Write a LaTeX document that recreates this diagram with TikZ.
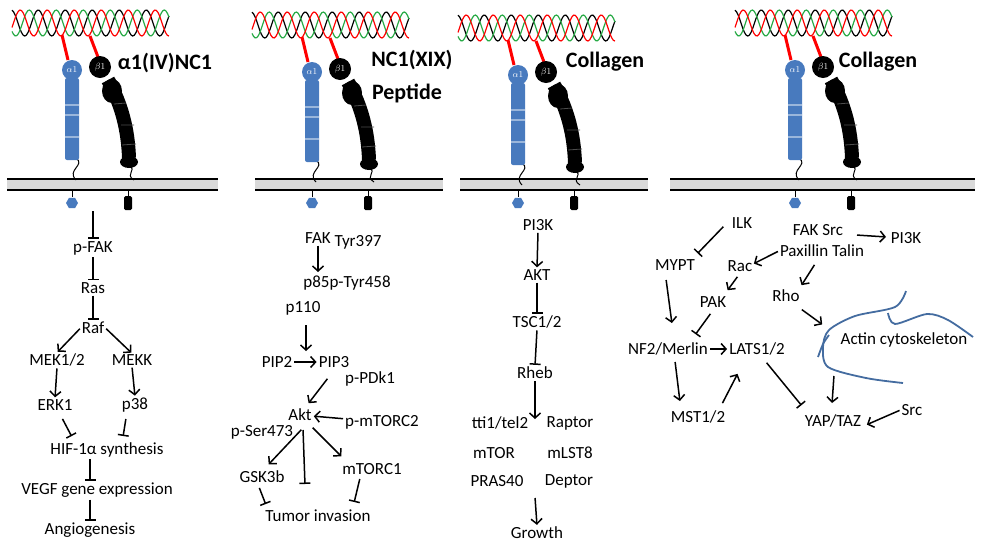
\documentclass[tikz,border=0pt]{standalone}
\usepackage{fontspec}
\setmainfont{Carlito}
\usetikzlibrary{arrows.meta,shapes.geometric}
\definecolor{ablue}{RGB}{72,122,190}
\definecolor{hgreen}{RGB}{40,170,70}
\definecolor{actin}{RGB}{68,108,160}
\newcommand\myhelix[2]{\draw[#1, line width=1.2pt] plot[variable=\t,domain=-60:97,samples=100,smooth] (\t,{-47+13*sin(13.33*(\t+#2))});}
\newcommand\myintegrin[2]{%
\begin{scope}[shift={(#1,#2)}]
 \myhelix{black}{0}\myhelix{hgreen}{9}\myhelix{red}{18}
 \draw[red,line width=3pt] (-10,-35) -- (-4,-10) (18,-34) -- (26,-13);
 \draw[line width=1pt] (4,88) .. controls (14,95) and (-6,100) .. (4,110);
 \draw[line width=1pt] (57,96) .. controls (66,100) and (52,104) .. (62,110);
 \draw[line width=14pt] (36,10) .. controls (50,35) and (56,60) .. (57,88);
 \fill (40,21) ellipse [x radius=10pt, y radius=12pt];
 \fill (57,92) ellipse [x radius=9pt, y radius=6pt];
 \draw[gray!60!black,line width=0.8pt] (42,34)--(54,33) (49,55)--(62,55) (50,75)--(64,74);
 \fill[ablue,rounded corners=2pt] (-7,8) rectangle (7,90);
 \draw[ablue!55!white,line width=1.2pt] (-7,35)--(7,35) (-7,45)--(7,45) (-7,67)--(7,67);
 \fill (28,-3) circle [radius=11pt];
 \fill[ablue] (0,0) circle [radius=10pt];
 \node[white,font=\fontsize{9}{10}\selectfont] at (0,0) {$\alpha1$};
 \node[white,font=\fontsize{9}{10}\selectfont\bfseries] at (28,-3) {$\beta1$};
\end{scope}
\node[regular polygon,regular polygon sides=6,fill=ablue,minimum size=12pt,inner sep=0pt] at (#1,203) {};
\fill[rounded corners=1.5pt] (#1+52,196) rectangle (#1+60,210);
\draw[line width=1pt] (#1,190)--(#1,197) (#1+56,190)--(#1+56,197);
}
\newcommand\mymembrane[2]{%
\fill[gray!30] (#1,179) rectangle (#2,190);
\draw[line width=2pt] (#1,179)--(#2,179) (#1,190)--(#2,190);}
\begin{document}
\begin{tikzpicture}[x=1pt,y=-1pt,
 every node/.style={font=\fontsize{17}{18}\selectfont,inner sep=1pt},
 act/.style={line width=1.5pt,-{Straight Barb[length=5pt,width=11pt]},shorten >=1pt,shorten <=1pt},
 inh/.style={line width=1.5pt,-{Bar[width=11pt,line width=1.5pt]},shorten >=1pt,shorten <=1pt},
 title/.style={font=\fontsize{22}{24}\selectfont\bfseries}]
\useasboundingbox (0,0) rectangle (981,547);
\mymembrane{7}{218}\mymembrane{255}{443}\mymembrane{460}{648}\mymembrane{670}{975}
\myintegrin{72}{70}\myintegrin{312}{72}\myintegrin{518}{75}\myintegrin{795}{70}
\node[title] (t1) at (165,63) {α1(IV)NC1};
\node[title] (t2) at (412,60) {NC1(XIX)};
\node[title] (t2b) at (407,93) {Peptide};
\node[title] (t3) at (605,62) {Collagen};
\node[title] (t4) at (878,62) {Collagen};
% panel 1
\coordinate (s1) at (93,210);
\node (pfak) at (93,248) {p-FAK};
\node (ras) at (93,288) {Ras};
\node (raf) at (93,328) {Raf};
\node (mek) at (57,360) {MEK1/2};
\node (mekk) at (132,360) {MEKK};
\node (erk) at (55,405) {ERK1};
\node (p38) at (135,405) {p38};
\node (hif) at (107,450) {HIF-1α synthesis};
\node (vegf) at (97,490) {VEGF gene expression};
\node (ang) at (90,530) {Angiogenesis};
\draw[inh] (s1) -- (pfak.north);
\draw[inh] (pfak.south) -- (ras.north);
\draw[inh] (ras.south) -- (raf.north);
\draw[act] (raf.west) -- (mek.north);
\draw[act] (raf.east) -- (mekk.north);
\draw[act] (mek.south) -- (erk.north);
\draw[act] (mekk.south) -- (p38.north);
\draw[inh] (62,418) -- (72,437);
\draw[inh] (126,418) -- (123,437);
\draw[inh] (hif.south -| 90,0) -- (vegf.north -| 90,0);
\draw[inh] (vegf.south -| 90,0) -- (ang.north -| 90,0);
% panel 2
\node (fak) at (318,238) {FAK};
\node (tyr) at (358,242) {Tyr397};
\node (p85) at (347,283) {p85p-Tyr458};
\node (p110) at (303,308) {p110};
\node (pip2) at (277,362) {PIP2};
\node (pip3) at (334,362) {PIP3};
\node (pdk) at (370,379) {p-PDk1};
\node (akt) at (300,415) {Akt};
\node (mtorc2) at (382,422) {p-mTORC2};
\node (ser) at (262,432) {p-Ser473};
\node (gsk) at (262,477) {GSK3b};
\node (mtorc1) at (372,469) {mTORC1};
\node (tum) at (318,516) {Tumor invasion};
\coordinate (ae) at (305,485);
\draw[act] (fak.south) -- (318,273);
\draw[act] (306,324) -- (306,352);
\draw[act] (pip2) -- (pip3);
\draw[act] (328,378) -- (308,404);
\draw[act] (mtorc2) -- (akt);
\draw[act] (302,429) -- (268,465);
\draw[inh] (303,429) -- (ae);
\draw[act] (312,427) -- (342,457);
\draw[inh] (259,487) -- (266,505);
\draw[inh] (360,478) -- (354,503);
% panel 3
\node (pi3k) at (538,225) {PI3K};
\node (akt3) at (537,275) {AKT};
\node (tsc) at (537,322) {TSC1/2};
\node (rheb) at (535,373) {Rheb};
\coordinate (cx) at (535,420);
\node (tti) at (500,423) {tti1/tel2};
\node (rap) at (570,423) {Raptor};
\node (mtor) at (494,453) {mTOR};
\node (mlst) at (570,453) {mLST8};
\node (pras) at (497,481) {PRAS40};
\node (dep) at (569,481) {Deptor};
\coordinate (cy) at (535,497);
\node (gro) at (537,533) {Growth};
\draw[act] (pi3k.south) -- (akt3.north);
\draw[inh] (akt3.south) -- (tsc.north);
\draw[inh] (tsc.south) -- (rheb.north);
\draw[act] (rheb.south) -- (cx);
\draw[act] (cy) -- (gro.north);
% panel 4
\node (ilk) at (742,223) {ILK};
\node (mypt) at (675,265) {MYPT};
\node (faks) at (818,230) {FAK Src};
\node (pax) at (822,251) {Paxillin Talin};
\node (pi3k4) at (906,238) {PI3K};
\node (rac) at (740,266) {Rac};
\node (rho) at (786,296) {Rho};
\node (pak) at (713,302) {PAK};
\node (nf2) at (668,349) {NF2/Merlin};
\node (lats) at (757,349) {LATS1/2};
\node (mst) at (698,417) {MST1/2};
\node (yap) at (833,421) {YAP/TAZ};
\node (src) at (912,410) {Src};
\node (actn) at (904,340) {Actin cytoskeleton};
\coordinate (ac) at (823,325);
\coordinate (ad) at (834,375);
\draw[inh] (724,226) -- (697,254);
\draw[act] (856,235) -- (887,237);
\draw[act] (pax.west) -- (753,264);
\draw[act] (815,264) -- (801,286);
\draw[act] (738,276) -- (727,291);
\draw[act] (666,279) -- (672,324);
\draw[inh] (711,313) -- (695,335);
\draw[act] (nf2.east) -- (lats.west);
\draw[act] (675,361) -- (680,402);
\draw[act] (722,404) -- (738,373);
\draw[inh] (766,362) -- (802,406);
\draw[act] (801,309) -- (ac);
\draw[act] (ad) -- (832,404);
\draw[act] (src.west) -- (866,425);
\draw[actin,line width=1.8pt] plot[smooth] coordinates {(906,291) (895,307) (855,316) (829,330) (823,347) (828,367) (866,378) (903,383)};
\draw[actin,line width=1.8pt] plot[smooth] coordinates {(818,357) (823,344) (829,335)};
\draw[actin,line width=1.8pt] plot[smooth] coordinates {(888,313) (895,324) (927,314) (948,320) (973,337)};
\end{tikzpicture}
\end{document}
